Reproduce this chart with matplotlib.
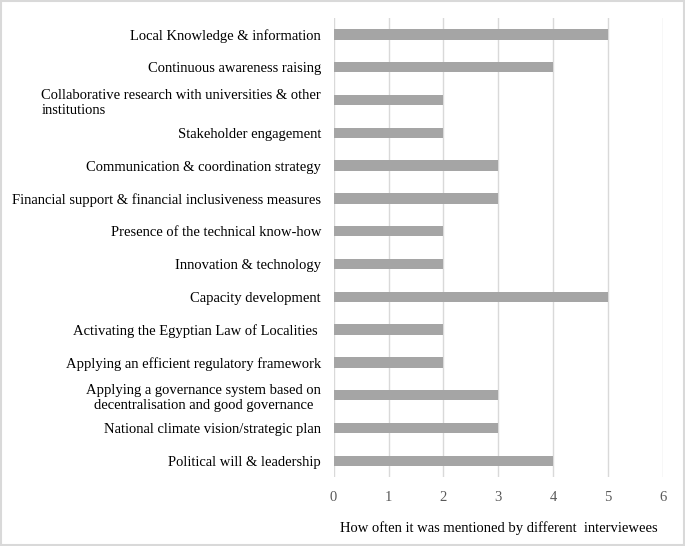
import matplotlib.pyplot as plt
import matplotlib.patches as patches

categories = [
    'Local Knowledge & information',
    'Continuous awareness raising',
    'Collaborative research with universities & other\ninstitutions',
    'Stakeholder engagement',
    'Communication & coordination strategy',
    'Financial support & financial inclusiveness measures',
    'Presence of the technical know-how',
    'Innovation & technology',
    'Capacity development',
    'Activating the Egyptian Law of Localities ',
    'Applying an efficient regulatory framework',
    'Applying a governance system based on\ndecentralisation and good governance',
    'National climate vision/strategic plan',
    'Political will & leadership',
]
counts = [5, 4, 2, 2, 3, 3, 2, 2, 5, 2, 2, 3, 3, 4]
xticks = [0, 1, 2, 3, 4, 5, 6]
xlabel = 'How often it was mentioned by different  interviewees'

plt.rcParams['font.family'] = ['Liberation Serif', 'DejaVu Serif']

fig = plt.figure(figsize=(6.85, 5.46), dpi=100)
ax = fig.add_axes([0.487, 0.126, 0.481, 0.841])

ypos = list(range(len(categories)))
ax.barh(ypos, counts, height=0.32, color='#A5A5A5', zorder=3)
ax.set_ylim(len(categories) - 0.5, -0.5)
ax.set_xlim(0, 6)
ax.set_xticks(xticks)
ax.set_yticks(ypos)
ax.set_yticklabels(categories, fontsize=10.5, color='black', linespacing=1.25)
# left-aligned second line for one label, centred for another
for lbl in ax.get_yticklabels():
    if lbl.get_text().startswith('Collaborative'):
        lbl.set_multialignment('left')
    elif lbl.get_text().startswith('Applying a governance'):
        lbl.set_multialignment('center')
ax.tick_params(axis='y', length=0, pad=9)
ax.tick_params(axis='x', length=0, pad=10, labelsize=10.5, labelcolor='#595959')
ax.grid(axis='x', color='#D9D9D9', linewidth=1, zorder=0)
for s in ax.spines.values():
    s.set_visible(False)
ax.set_xlabel(xlabel, fontsize=10.5, labelpad=12)

fig.patches.append(patches.Rectangle((0.002, 0.002), 0.996, 0.996, transform=fig.transFigure,
                                     fill=False, edgecolor='#D9D9D9', linewidth=1.5))

fig.savefig('out.png', dpi=100)
